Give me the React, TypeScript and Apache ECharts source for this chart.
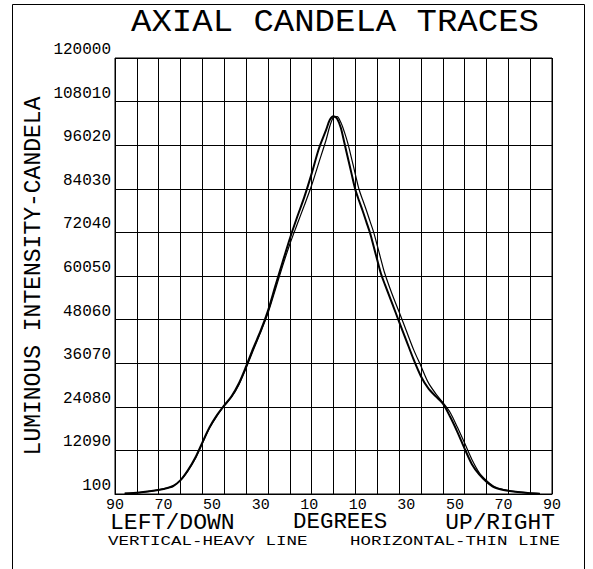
import React, { useEffect, useRef } from 'react';
import * as echarts from 'echarts';

// Angles in degrees: negative = LEFT/DOWN, positive = UP/RIGHT
const ANGLES = [
  -86, -80, -75, -70, -66, -63, -60, -57, -54, -51, -48, -45, -42, -39, -36, -33, -30, -27, -24, -21,
  -18, -15, -12, -9, -6, -3, -1.5, 0, 1.5, 3, 4.5, 6, 7.5, 9, 10.5, 12, 13.5, 15, 16.5, 18, 19.5, 21,
  24, 27, 30, 33, 36, 39, 42, 45, 48, 51, 54, 57, 60, 63, 66, 70, 75, 80, 85,
];

// Candela – vertical trace (heavy line)
const VERTICAL_HEAVY = [
  250, 500, 900, 1500, 2300, 3900, 6600, 10000, 14300, 18500, 21800, 24500, 27000, 30500, 35200, 40300,
  45000, 50500, 57200, 63800, 70300, 76200, 81800, 88200, 95100, 100300, 103000, 104000, 103300, 100800,
  96600, 92300, 88000, 83800, 80800, 78000, 75000, 72000, 68300, 64500, 60800, 58000, 52800, 47500, 42300,
  37100, 32500, 29200, 27000, 25000, 21400, 17200, 12600, 8300, 5500, 3500, 2000, 1200, 700, 400, 200,
];

// Candela – horizontal trace (thin line)
const HORIZONTAL_THIN = [
  250, 500, 900, 1500, 2300, 3900, 6400, 9700, 14000, 18300, 21600, 24300, 26700, 30100, 34700, 39700,
  44600, 49800, 56200, 62700, 68800, 74200, 79500, 85000, 91300, 97600, 101300, 103700, 103900, 102300,
  99600, 96300, 92200, 88000, 83900, 81000, 78200, 75200, 72200, 68500, 64700, 61000, 55300, 50200, 45000,
  39800, 35300, 30800, 27800, 25300, 22600, 18500, 14100, 9600, 6000, 3800, 2200, 1300, 750, 400, 200,
];

const Y_TICKS = [100, 12090, 24080, 36070, 48060, 60050, 72040, 84030, 96020, 108010, 120000];
const X_LABELS = ['90', '70', '50', '30', '10', '10', '30', '50', '70', '90'];

const TITLE = 'AXIAL CANDELA TRACES';
const Y_NAME = 'LUMINOUS INTENSITY-CANDELA';
const BOTTOM_LEFT = 'LEFT/DOWN';
const BOTTOM_MID = 'DEGREES';
const BOTTOM_RIGHT = 'UP/RIGHT';
const NOTE_LEFT = 'VERTICAL-HEAVY LINE';
const NOTE_RIGHT = 'HORIZONTAL-THIN LINE';

const FONT = '"Liberation Mono", "DejaVu Sans Mono", monospace';

export default function App() {
  const ref = useRef<HTMLDivElement>(null);

  useEffect(() => {
    document.body.style.margin = '0';
    const chart = echarts.init(ref.current as HTMLDivElement, null, { renderer: 'svg' });
    const step = Y_TICKS[1] - Y_TICKS[0];
    const toAxis = (v: number) => (v - Y_TICKS[0]) / step;
    const txt = (
      text: string,
      x: number,
      y: number,
      size: number,
      align: string,
      lh: number,
      sx = 1,
      sy = 1,
      rot = 0
    ) => ({
      type: 'text',
      x,
      y,
      scaleX: sx,
      scaleY: sy,
      rotation: rot,
      silent: true,
      style: {
        text,
        fontFamily: FONT,
        fontSize: size,
        lineHeight: lh,
        fill: '#000',
        textAlign: align,
        textVerticalAlign: 'middle',
      },
    });

    chart.setOption({
      animation: false,
      backgroundColor: '#fff',
      grid: { left: 115, top: 58, right: 41, bottom: 75, show: true, borderColor: '#000', borderWidth: 1 },
      xAxis: [
        {
          type: 'value',
          min: -90,
          max: 90,
          interval: 9,
          position: 'bottom',
          axisLine: { show: true, lineStyle: { color: '#000', width: 1 } },
          axisTick: { show: false },
          axisLabel: { show: false },
          splitLine: { show: true, lineStyle: { color: '#000', width: 1 } },
        },
        {
          type: 'value',
          min: 0,
          max: 180,
          interval: 20,
          position: 'bottom',
          axisLine: { show: false },
          axisTick: { show: false },
          splitLine: { show: false },
          axisLabel: {
            show: true,
            margin: 5,
            fontFamily: FONT,
            fontSize: 15,
            lineHeight: 12,
            color: '#000',
            showMinLabel: true,
            showMaxLabel: true,
            formatter: (v: number) => X_LABELS[Math.round(v / 20)] ?? '',
          },
        },
      ],
      yAxis: {
        type: 'value',
        min: 0,
        max: Y_TICKS.length - 1,
        interval: 1,
        axisLine: { show: true, lineStyle: { color: '#000', width: 1 } },
        axisTick: { show: false },
        splitLine: { show: true, lineStyle: { color: '#000', width: 1 } },
        axisLabel: {
          formatter: (v: number) => String(Y_TICKS[Math.round(v)] ?? ''),
          verticalAlign: 'bottom',
          margin: 4,
          fontFamily: FONT,
          fontSize: 16,
          color: '#000',
          showMinLabel: true,
          showMaxLabel: true,
        },
      },
      series: [
        {
          name: NOTE_LEFT,
          type: 'line',
          xAxisIndex: 0,
          data: ANGLES.map((a, i) => [a, toAxis(VERTICAL_HEAVY[i])]),
          smooth: 0.3,
          showSymbol: false,
          lineStyle: { color: '#000', width: 2 },
        },
        {
          name: NOTE_RIGHT,
          type: 'line',
          xAxisIndex: 0,
          data: ANGLES.map((a, i) => [a, toAxis(HORIZONTAL_THIN[i])]),
          smooth: 0.3,
          showSymbol: false,
          lineStyle: { color: '#000', width: 1.2 },
        },
      ],
      graphic: [
        {
          type: 'rect',
          silent: true,
          shape: { x: 12.5, y: 4.5, width: 572, height: 620 },
          style: { fill: 'none', stroke: '#000', lineWidth: 1 },
        },
        txt(TITLE, 335, 23, 34, 'center', 26, 1, 0.9),
        txt(Y_NAME, 34, 276, 23, 'center', 18, 1, 1, Math.PI / 2),
        txt(BOTTOM_LEFT, 110, 523, 22, 'left', 16, 1.05, 1),
        txt(BOTTOM_MID, 293, 523, 22, 'left', 16, 1.02, 1),
        txt(BOTTOM_RIGHT, 555, 523, 22, 'right', 16, 1.04, 1),
        txt(NOTE_LEFT, 108, 542, 17.5, 'left', 12, 1, 0.78),
        txt(NOTE_RIGHT, 350, 542, 17.5, 'left', 12, 1, 0.78),
      ],
    });
    return () => chart.dispose();
  }, []);

  return <div ref={ref} style={{ width: 593, height: 569 }} />;
}
